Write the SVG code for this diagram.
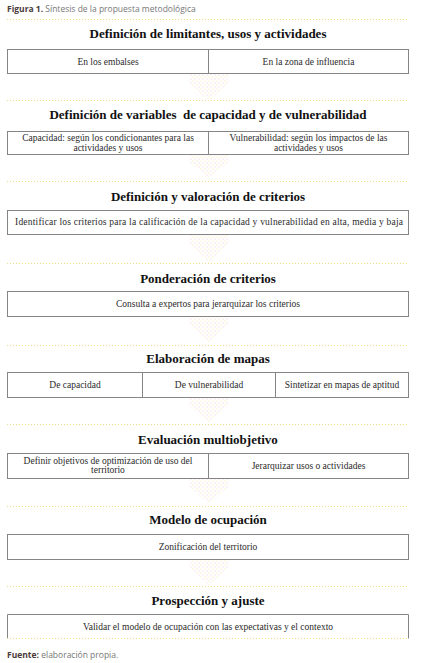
<svg xmlns="http://www.w3.org/2000/svg" width="428" height="663" viewBox="0 0 428 663">
<style>
.cap{font-family:"Open Sans","Liberation Sans",sans-serif;font-size:8.5px;fill:#777}
.capb{font-weight:bold;fill:#4a3a3a}
.h{font-family:"Liberation Serif","Times New Roman",serif;font-weight:bold;font-size:13px;fill:#111;text-anchor:middle}
.t{font-family:"Liberation Serif","Times New Roman",serif;font-size:9.5px;fill:#2a2a2a;text-anchor:middle}
.box{fill:#fff;stroke:#858585;stroke-width:1}
.div{stroke:#858585;stroke-width:1}
.sep{stroke:#efdc8c;stroke-width:1;stroke-dasharray:1 2}
.arr{fill:url(#dots)}
</style>
<defs>
<pattern id="dots" width="4" height="4" patternUnits="userSpaceOnUse">
<rect x="0.5" y="0.5" width="1" height="1" fill="#f5e6a8"/>
<rect x="2.5" y="2.5" width="1" height="1" fill="#f4ccdc"/>
</pattern>
</defs>
<rect width="428" height="663" fill="#fff"/>
<text x="7" y="12" class="cap"><tspan class="capb">Figura 1.</tspan> Síntesis de la propuesta metodológica</text>

<g id="separators">
<line x1="7" y1="19.5" x2="409" y2="19.5" class="sep"/>
<line x1="7" y1="100.5" x2="409" y2="100.5" class="sep"/>
<line x1="7" y1="181.5" x2="409" y2="181.5" class="sep"/>
<line x1="7" y1="263.5" x2="409" y2="263.5" class="sep"/>
<line x1="7" y1="345.5" x2="409" y2="345.5" class="sep"/>
<line x1="7" y1="424.5" x2="409" y2="424.5" class="sep"/>
<line x1="7" y1="506.5" x2="409" y2="506.5" class="sep"/>
<line x1="7" y1="586.5" x2="409" y2="586.5" class="sep"/>
</g>

<g id="connectors">
<polygon class="arr" points="190,74 228,74 229,82 209,101 189,82"/>
<polygon class="arr" points="190,155 228,155 229,162 209,178 189,162"/>
<polygon class="arr" points="190,235 228,235 229,243 209,262 189,243"/>
<polygon class="arr" points="190,317 228,317 229,324 209,343 189,324"/>
<polygon class="arr" points="190,398 228,398 229,405 209,423 189,405"/>
<polygon class="arr" points="190,479 228,479 229,486 209,504 189,486"/>
<polygon class="arr" points="190,560 228,560 229,567 209,585 189,567"/>
</g>

<g id="n1">
<text x="208" y="38" class="h">Definición de limitantes, usos y actividades</text>
<rect x="7.5" y="49.5" width="401" height="24" class="box"/>
<line x1="208.5" y1="49.5" x2="208.5" y2="73.5" class="div"/>
<text x="108" y="64.5" class="t">En los embalses</text>
<text x="308.5" y="64.5" class="t">En la zona de influencia</text>
</g>

<g id="n2">
<text x="208" y="119" class="h" xml:space="preserve">Definición de variables  de capacidad y de vulnerabilidad</text>
<rect x="7.5" y="131.5" width="401" height="23" class="box"/>
<line x1="208.5" y1="131.5" x2="208.5" y2="154.5" class="div"/>
<text x="108" y="140.5" class="t">Capacidad: según los condicionantes para las</text>
<text x="108" y="150.5" class="t">actividades y usos</text>
<text x="308.5" y="140.5" class="t">Vulnerabilidad: según los impactos de las</text>
<text x="308.5" y="150.5" class="t">actividades y usos</text>
</g>

<g id="n3">
<text x="208" y="201" class="h">Definición y valoración de criterios</text>
<rect x="7.5" y="210.5" width="401" height="24" class="box"/>
<text x="209" y="225" class="t" textLength="388" lengthAdjust="spacing">Identificar los criterios para la calificación de la capacidad y vulnerabilidad en alta, media y baja</text>
</g>

<g id="n4">
<text x="208" y="283" class="h">Ponderación de criterios</text>
<rect x="7.5" y="291.5" width="401" height="25" class="box"/>
<text x="208" y="307" class="t">Consulta a expertos para jerarquizar los criterios</text>
</g>

<g id="n5">
<text x="208" y="363" class="h">Elaboración de mapas</text>
<rect x="7.5" y="372.5" width="401" height="25" class="box"/>
<line x1="142.5" y1="372.5" x2="142.5" y2="397.5" class="div"/>
<line x1="275.5" y1="372.5" x2="275.5" y2="397.5" class="div"/>
<text x="75" y="388" class="t">De capacidad</text>
<text x="209" y="388" class="t">De vulnerabilidad</text>
<text x="342" y="388" class="t">Sintetizar en mapas de aptitud</text>
</g>

<g id="n6">
<text x="208" y="444" class="h">Evaluación multiobjetivo</text>
<rect x="7.5" y="453.5" width="401" height="25" class="box"/>
<line x1="208.5" y1="453.5" x2="208.5" y2="478.5" class="div"/>
<text x="108" y="464" class="t">Definir objetivos de optimización de uso del</text>
<text x="108" y="473" class="t">territorio</text>
<text x="308.5" y="469" class="t">Jerarquizar usos o actividades</text>
</g>

<g id="n7">
<text x="208" y="524" class="h">Modelo de ocupación</text>
<rect x="7.5" y="534.5" width="401" height="25" class="box"/>
<text x="208" y="550" class="t">Zonificación del territorio</text>
</g>

<g id="n8">
<text x="208" y="605" class="h">Prospección y ajuste</text>
<path d="M7.5,638.5 V614.5 H408.5 V638.5" fill="none" stroke="#858585" stroke-width="1"/>
<line x1="7" y1="638.5" x2="409" y2="638.5" class="sep"/>
<text x="208" y="630" class="t">Validar el modelo de ocupación con las expectativas y el contexto</text>
</g>

<text x="7" y="658" class="cap"><tspan class="capb">Fuente:</tspan> elaboración propia.</text>
</svg>
